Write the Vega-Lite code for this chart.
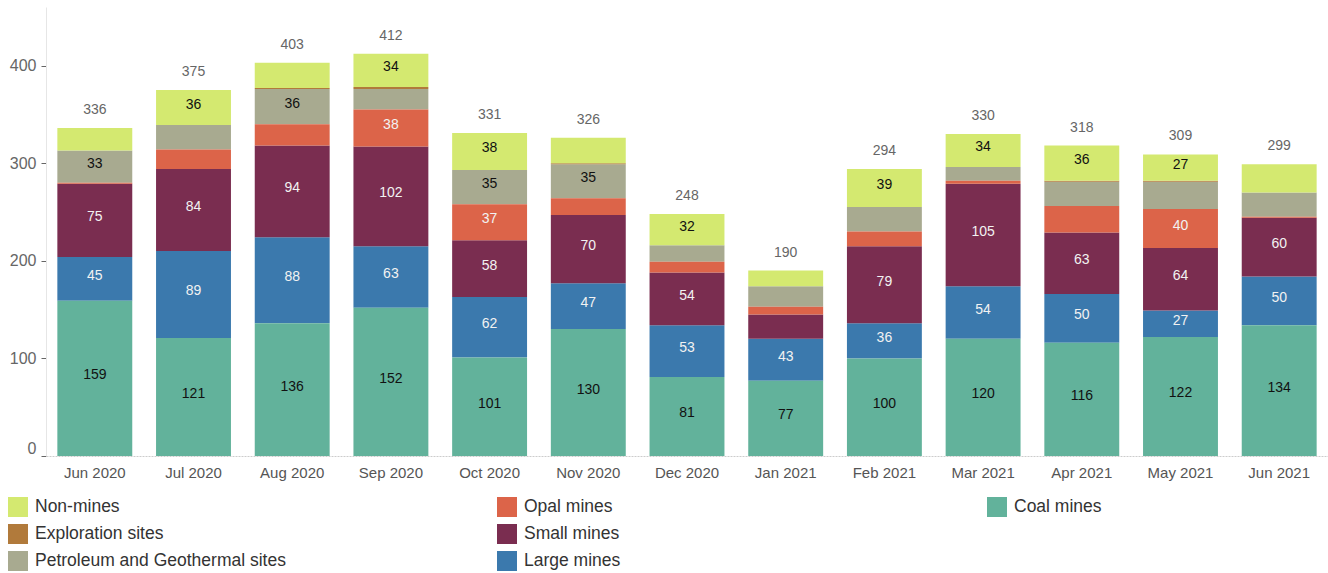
{
  "$schema": "https://vega.github.io/schema/vega-lite/v6.json",
  "width": 1282,
  "height": 449,
  "autosize": {"type": "none"},
  "padding": {"left": 46, "top": 7, "right": 0, "bottom": 117},
  "background": "white",
  "config": {
    "font": "Liberation Sans",
    "view": {"stroke": null},
    "axis": {"grid": false, "title": null},
    "axisX": {"domainColor": "#cccccc", "domainDash": [2, 1], "ticks": false, "labelFontSize": 15, "labelColor": "#555555", "labelPadding": 9, "labelAngle": 0},
    "axisY": {"domainColor": "#e6e6e6", "tickColor": "#666666", "tickSize": 5, "labelFontSize": 16, "labelColor": "#666666", "labelPadding": 5, "labelFlush": true},
    "legend": {"symbolType": "square", "symbolSize": 400, "symbolStrokeWidth": 0, "symbolOpacity": 1, "labelFontSize": 17.5, "labelColor": "#333333", "labelOffset": 7, "labelLimit": 500, "rowPadding": 7, "title": null, "orient": "none", "direction": "vertical"}
  },
  "data": {"values": [
    {"month": "Jun 2020", "type": "Coal mines", "value": 159, "show": true},
    {"month": "Jun 2020", "type": "Large mines", "value": 45, "show": true},
    {"month": "Jun 2020", "type": "Small mines", "value": 75, "show": true},
    {"month": "Jun 2020", "type": "Opal mines", "value": 1},
    {"month": "Jun 2020", "type": "Petroleum and Geothermal sites", "value": 33, "show": true},
    {"month": "Jun 2020", "type": "Exploration sites", "value": 0},
    {"month": "Jun 2020", "type": "Non-mines", "value": 23},
    {"month": "Jul 2020", "type": "Coal mines", "value": 121, "show": true},
    {"month": "Jul 2020", "type": "Large mines", "value": 89, "show": true},
    {"month": "Jul 2020", "type": "Small mines", "value": 84, "show": true},
    {"month": "Jul 2020", "type": "Opal mines", "value": 20},
    {"month": "Jul 2020", "type": "Petroleum and Geothermal sites", "value": 25},
    {"month": "Jul 2020", "type": "Exploration sites", "value": 0},
    {"month": "Jul 2020", "type": "Non-mines", "value": 36, "show": true},
    {"month": "Aug 2020", "type": "Coal mines", "value": 136, "show": true},
    {"month": "Aug 2020", "type": "Large mines", "value": 88, "show": true},
    {"month": "Aug 2020", "type": "Small mines", "value": 94, "show": true},
    {"month": "Aug 2020", "type": "Opal mines", "value": 22},
    {"month": "Aug 2020", "type": "Petroleum and Geothermal sites", "value": 36, "show": true},
    {"month": "Aug 2020", "type": "Exploration sites", "value": 1},
    {"month": "Aug 2020", "type": "Non-mines", "value": 26},
    {"month": "Sep 2020", "type": "Coal mines", "value": 152, "show": true},
    {"month": "Sep 2020", "type": "Large mines", "value": 63, "show": true},
    {"month": "Sep 2020", "type": "Small mines", "value": 102, "show": true},
    {"month": "Sep 2020", "type": "Opal mines", "value": 38, "show": true},
    {"month": "Sep 2020", "type": "Petroleum and Geothermal sites", "value": 21},
    {"month": "Sep 2020", "type": "Exploration sites", "value": 2},
    {"month": "Sep 2020", "type": "Non-mines", "value": 34, "show": true},
    {"month": "Oct 2020", "type": "Coal mines", "value": 101, "show": true},
    {"month": "Oct 2020", "type": "Large mines", "value": 62, "show": true},
    {"month": "Oct 2020", "type": "Small mines", "value": 58, "show": true},
    {"month": "Oct 2020", "type": "Opal mines", "value": 37, "show": true},
    {"month": "Oct 2020", "type": "Petroleum and Geothermal sites", "value": 35, "show": true},
    {"month": "Oct 2020", "type": "Exploration sites", "value": 0},
    {"month": "Oct 2020", "type": "Non-mines", "value": 38, "show": true},
    {"month": "Nov 2020", "type": "Coal mines", "value": 130, "show": true},
    {"month": "Nov 2020", "type": "Large mines", "value": 47, "show": true},
    {"month": "Nov 2020", "type": "Small mines", "value": 70, "show": true},
    {"month": "Nov 2020", "type": "Opal mines", "value": 17},
    {"month": "Nov 2020", "type": "Petroleum and Geothermal sites", "value": 35, "show": true},
    {"month": "Nov 2020", "type": "Exploration sites", "value": 1},
    {"month": "Nov 2020", "type": "Non-mines", "value": 26},
    {"month": "Dec 2020", "type": "Coal mines", "value": 81, "show": true},
    {"month": "Dec 2020", "type": "Large mines", "value": 53, "show": true},
    {"month": "Dec 2020", "type": "Small mines", "value": 54, "show": true},
    {"month": "Dec 2020", "type": "Opal mines", "value": 11},
    {"month": "Dec 2020", "type": "Petroleum and Geothermal sites", "value": 17},
    {"month": "Dec 2020", "type": "Exploration sites", "value": 0},
    {"month": "Dec 2020", "type": "Non-mines", "value": 32, "show": true},
    {"month": "Jan 2021", "type": "Coal mines", "value": 77, "show": true},
    {"month": "Jan 2021", "type": "Large mines", "value": 43, "show": true},
    {"month": "Jan 2021", "type": "Small mines", "value": 25},
    {"month": "Jan 2021", "type": "Opal mines", "value": 8},
    {"month": "Jan 2021", "type": "Petroleum and Geothermal sites", "value": 21},
    {"month": "Jan 2021", "type": "Exploration sites", "value": 0},
    {"month": "Jan 2021", "type": "Non-mines", "value": 16},
    {"month": "Feb 2021", "type": "Coal mines", "value": 100, "show": true},
    {"month": "Feb 2021", "type": "Large mines", "value": 36, "show": true},
    {"month": "Feb 2021", "type": "Small mines", "value": 79, "show": true},
    {"month": "Feb 2021", "type": "Opal mines", "value": 15},
    {"month": "Feb 2021", "type": "Petroleum and Geothermal sites", "value": 25},
    {"month": "Feb 2021", "type": "Exploration sites", "value": 0},
    {"month": "Feb 2021", "type": "Non-mines", "value": 39, "show": true},
    {"month": "Mar 2021", "type": "Coal mines", "value": 120, "show": true},
    {"month": "Mar 2021", "type": "Large mines", "value": 54, "show": true},
    {"month": "Mar 2021", "type": "Small mines", "value": 105, "show": true},
    {"month": "Mar 2021", "type": "Opal mines", "value": 3},
    {"month": "Mar 2021", "type": "Petroleum and Geothermal sites", "value": 14},
    {"month": "Mar 2021", "type": "Exploration sites", "value": 0},
    {"month": "Mar 2021", "type": "Non-mines", "value": 34, "show": true},
    {"month": "Apr 2021", "type": "Coal mines", "value": 116, "show": true},
    {"month": "Apr 2021", "type": "Large mines", "value": 50, "show": true},
    {"month": "Apr 2021", "type": "Small mines", "value": 63, "show": true},
    {"month": "Apr 2021", "type": "Opal mines", "value": 27},
    {"month": "Apr 2021", "type": "Petroleum and Geothermal sites", "value": 25},
    {"month": "Apr 2021", "type": "Exploration sites", "value": 1},
    {"month": "Apr 2021", "type": "Non-mines", "value": 36, "show": true},
    {"month": "May 2021", "type": "Coal mines", "value": 122, "show": true},
    {"month": "May 2021", "type": "Large mines", "value": 27, "show": true},
    {"month": "May 2021", "type": "Small mines", "value": 64, "show": true},
    {"month": "May 2021", "type": "Opal mines", "value": 40, "show": true},
    {"month": "May 2021", "type": "Petroleum and Geothermal sites", "value": 28},
    {"month": "May 2021", "type": "Exploration sites", "value": 1},
    {"month": "May 2021", "type": "Non-mines", "value": 27, "show": true},
    {"month": "Jun 2021", "type": "Coal mines", "value": 134, "show": true},
    {"month": "Jun 2021", "type": "Large mines", "value": 50, "show": true},
    {"month": "Jun 2021", "type": "Small mines", "value": 60, "show": true},
    {"month": "Jun 2021", "type": "Opal mines", "value": 1},
    {"month": "Jun 2021", "type": "Petroleum and Geothermal sites", "value": 25},
    {"month": "Jun 2021", "type": "Exploration sites", "value": 0},
    {"month": "Jun 2021", "type": "Non-mines", "value": 29}
  ]},
  "transform": [
    {"stack": "value", "groupby": ["month"], "as": ["y0", "y1"]}
  ],
  "encoding": {
    "x": {"field": "month", "type": "nominal", "sort": null, "title": null,
          "scale": {"paddingInner": 0.241, "paddingOuter": 0.115}}
  },
  "layer": [
    {
      "transform": [{"filter": {"field": "type", "oneOf": ["Non-mines", "Exploration sites", "Petroleum and Geothermal sites"]}}],
      "mark": {"type": "bar"},
      "encoding": {
        "y": {"field": "y0", "type": "quantitative", "title": null,
              "scale": {"domain": [0, 460], "nice": false},
              "axis": {"values": [0, 100, 200, 300, 400]}},
        "y2": {"field": "y1"},
        "color": {"field": "type", "type": "nominal",
                  "scale": {"domain": ["Non-mines", "Exploration sites", "Petroleum and Geothermal sites"], "range": ["#d4e970", "#b17a3b", "#a8aa90"]},
                  "legend": {"legendX": -38, "legendY": 490}}
      }
    },
    {
      "transform": [{"filter": {"field": "type", "oneOf": ["Opal mines", "Small mines", "Large mines"]}}],
      "mark": {"type": "bar"},
      "encoding": {
        "y": {"field": "y0", "type": "quantitative", "title": null, "scale": {"domain": [0, 460], "nice": false}},
        "y2": {"field": "y1"},
        "color": {"field": "type", "type": "nominal",
                  "scale": {"domain": ["Opal mines", "Small mines", "Large mines"], "range": ["#dc6449", "#7a2d50", "#3b79ad"]},
                  "legend": {"legendX": 451, "legendY": 490}}
      }
    },
    {
      "transform": [{"filter": {"field": "type", "oneOf": ["Coal mines"]}}],
      "mark": {"type": "bar"},
      "encoding": {
        "y": {"field": "y0", "type": "quantitative", "title": null, "scale": {"domain": [0, 460], "nice": false}},
        "y2": {"field": "y1"},
        "color": {"field": "type", "type": "nominal",
                  "scale": {"domain": ["Coal mines"], "range": ["#62b29b"]},
                  "legend": {"legendX": 941, "legendY": 490}}
      }
    },
    {
      "mark": {"type": "text", "fontSize": 14, "baseline": "middle", "dy": -3},
      "encoding": {
        "y": {"field": "value", "type": "quantitative", "stack": "zero", "bandPosition": 0.5, "title": null, "scale": {"domain": [0, 460], "nice": false}},
        "detail": {"field": "type", "type": "nominal"},
        "order": {"field": "y0", "type": "quantitative"},
        "text": {"condition": {"test": "datum.show", "field": "value", "type": "quantitative"}, "value": ""},
        "color": {"condition": {"test": "indexof(['Large mines','Small mines','Opal mines'], datum.type) >= 0", "value": "#f2f2f2"}, "value": "#111111"}
      }
    },
    {
      "mark": {"type": "text", "fontSize": 14, "baseline": "bottom", "dy": -11, "color": "#666666"},
      "encoding": {
        "y": {"aggregate": "sum", "field": "value", "type": "quantitative", "title": null, "scale": {"domain": [0, 460], "nice": false}},
        "text": {"aggregate": "sum", "field": "value", "type": "quantitative"}
      }
    }
  ],
  "resolve": {"scale": {"color": "independent"}, "legend": {"color": "independent"}}
}
